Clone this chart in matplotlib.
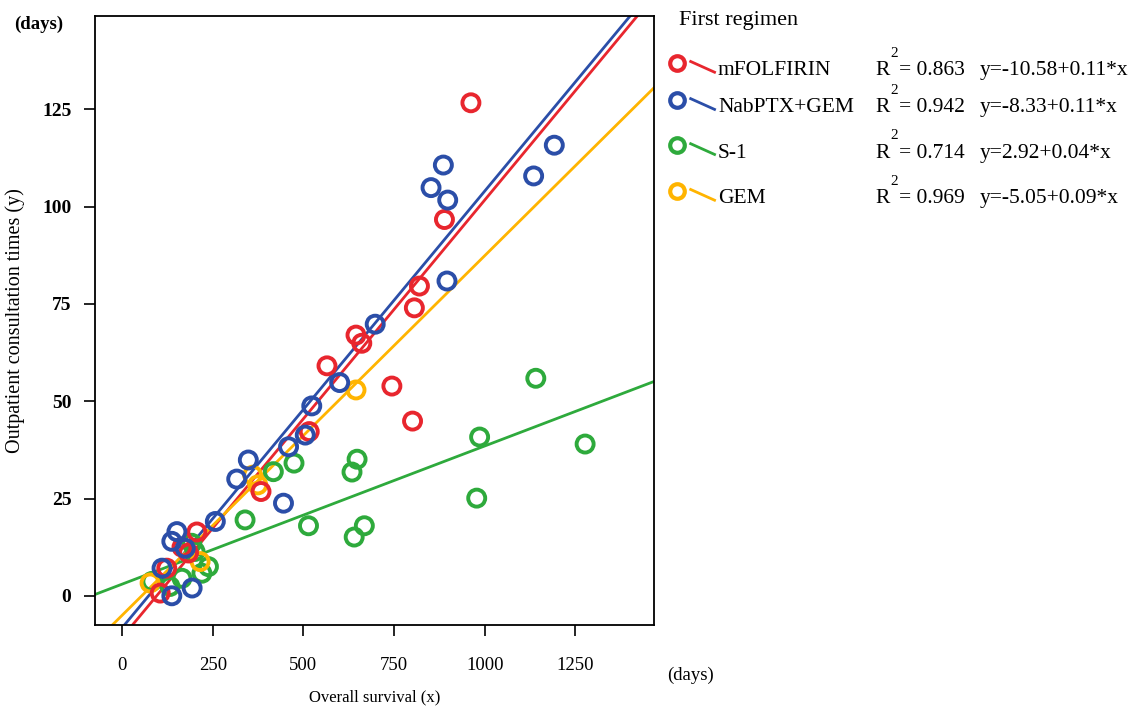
import matplotlib
matplotlib.use("Agg")
import matplotlib.pyplot as plt
from matplotlib.lines import Line2D

plt.rcParams['font.family'] = ['Liberation Serif', 'DejaVu Serif']

# regimens, colours and fitted lines (intercept, slope as drawn)
groups = ['mFOLFIRIN', 'NabPTX+GEM', 'S-1', 'GEM']
colors = ['#e8262e', '#2b4ea8', '#2eaa3c', '#ffb400']
r2_text = ['0.863', '0.942', '0.714', '0.969']
eq_text = ['y=-10.58+0.11*x', 'y=-8.33+0.11*x', 'y=2.92+0.04*x', 'y=-5.05+0.09*x']
intercepts = [-10.7, -8.2, 3.0, -5.0]
slopes = [0.1124, 0.1122, 0.0355, 0.0924]

# overall survival (days) / outpatient consultation times
red_x = [962, 889, 820, 806, 645, 661, 565, 744, 801, 516, 383, 206, 183, 165, 123, 105]
red_y = [126.7, 96.7, 79.6, 74.0, 67.0, 64.9, 59.1, 53.9, 44.9, 42.2, 26.8, 16.4, 11.0, 12.5, 7.1, 0.7]
blue_x = [1192, 1135, 886, 852, 898, 896, 698, 600, 523, 505, 459, 445, 348, 316, 257,
          151, 137, 174, 110, 193, 137]
blue_y = [115.8, 107.9, 110.7, 104.9, 101.7, 80.9, 69.8, 54.8, 48.8, 41.3, 38.3, 23.8, 34.9, 30.0, 19.1,
          16.5, 14.0, 12.2, 7.1, 2.0, 0.0]
green_x = [1141, 986, 1277, 978, 648, 634, 514, 668, 640, 474, 417, 339, 192, 201, 238, 220, 165, 82, 132]
green_y = [55.9, 40.8, 39.0, 25.1, 35.1, 31.8, 18.0, 18.0, 15.1, 34.1, 31.9, 19.5, 13.5, 11.4, 7.5, 5.8,
           4.5, 3.7, 2.4]
yellow_x = [77, 215, 360, 374, 645]
yellow_y = [3.3, 8.8, 31.0, 28.5, 52.9]

xs = [red_x, blue_x, green_x, yellow_x]
ys = [red_y, blue_y, green_y, yellow_y]

x_ticks = [0, 250, 500, 750, 1000, 1250]
y_ticks = [0, 25, 50, 75, 100, 125]
xlim = (-75, 1467)
ylim = (-7.5, 149)

fig = plt.figure(figsize=(11.36, 7.15), dpi=100)
ax = fig.add_axes([0.0836, 0.1259, 0.4921, 0.8517])

# fit lines first, circles on top
line_x = [xlim[0], xlim[1]]
for i in range(len(groups)):
    ax.plot(line_x, [intercepts[i] + slopes[i] * v for v in line_x], color=colors[i], lw=2, zorder=2)
for i in [2, 3, 0, 1]:
    ax.scatter(xs[i], ys[i], s=150, facecolors='none', edgecolors=colors[i], linewidths=2.8, zorder=3)

ax.set_xlim(xlim)
ax.set_ylim(ylim)
ax.set_xticks(x_ticks)
ax.set_yticks(y_ticks)
ax.tick_params(direction='out', length=8, width=1.2, pad=9)
ax.tick_params(axis='y', labelsize=14)
ax.tick_params(axis='x', labelsize=13.5, pad=15)
for lab in ax.get_yticklabels():
    lab.set_fontweight('bold')
for s in ax.spines.values():
    s.set_linewidth(1.3)

ax.set_xlabel('Overall survival (x)', fontsize=12, labelpad=11)
ax.set_ylabel('Outpatient consultation times (y)', fontsize=14.5, labelpad=12)
fig.text(0.012, 0.966, '(days)', fontsize=13.5, fontweight='bold', va='center')
fig.text(0.587, 0.056, '(days)', fontsize=13.5, va='center')

# legend drawn by hand on the right
fig.text(0.598, 0.972, 'First regimen', fontsize=16, va='center')
row_y = [0.901, 0.849, 0.786, 0.722]
for i in range(len(groups)):
    y0 = row_y[i]
    fig.add_artist(Line2D([0.596], [y0 + 0.011], marker='o', ms=10.5, mfc='none', mec=colors[i],
                          mew=3, transform=fig.transFigure))
    fig.add_artist(Line2D([0.608, 0.629], [y0 + 0.013, y0 - 0.002], color=colors[i], lw=2,
                          transform=fig.transFigure))
    fig.text(0.632, y0, groups[i], fontsize=15.5, va='center')
    fig.text(0.771, y0, 'R', fontsize=15.5, va='center')
    fig.text(0.7835, y0 + 0.024, '2', fontsize=11, va='center')
    fig.text(0.791, y0, '= ' + r2_text[i], fontsize=15.5, va='center')
    fig.text(0.862, y0, eq_text[i], fontsize=15.5, va='center')

fig.savefig('out.png', dpi=100)
